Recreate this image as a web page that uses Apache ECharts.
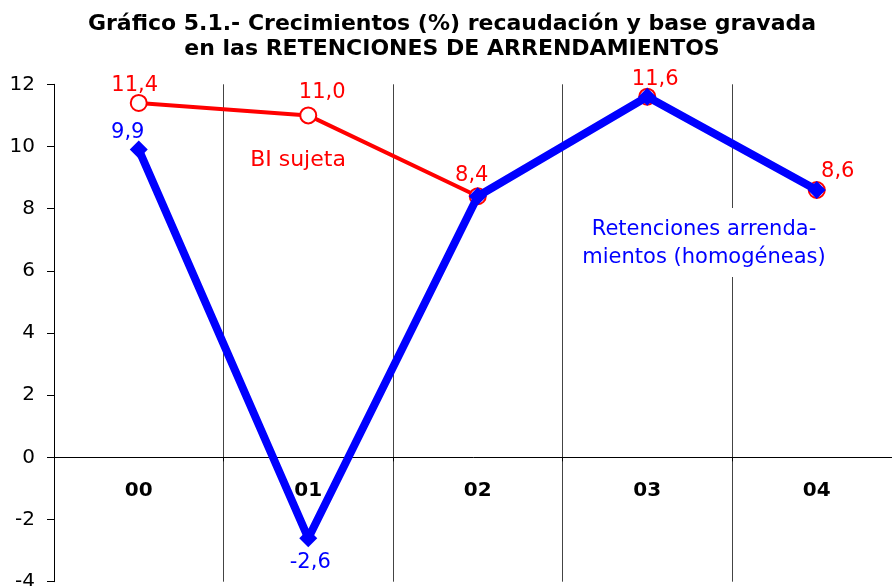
<!DOCTYPE html>
<html>
<head>
<meta charset="utf-8">
<script src="https://cdn.jsdelivr.net/npm/echarts@6/dist/echarts.min.js"></script>
<style>html,body{margin:0;padding:0;background:#fff}#c{width:892px;height:586px}</style>
</head>
<body>
<div id="c"></div>
<script>
const categories = ['00', '01', '02', '03', '04'];
const biSujeta = [11.4, 11.0, 8.4, 11.6, 8.6];
const retenciones = [9.9, -2.6, 8.4, 11.6, 8.6];
const yTicks = { min: -4, max: 12, interval: 2 };
const titleLines = ['Gráfico 5.1.- Crecimientos (%) recaudación y base gravada', 'en las RETENCIONES DE ARRENDAMIENTOS'];
const redLabelOffsets = [[-4, -17], [14, -23], [-6, -21], [8, -17], [21, -18]];
const blueLabelOffsets = [[-11, -17], [2, 24], null, null, null];

const fmt = v => v.toFixed(1).replace('.', ',');
const FONT = 'DejaVu Sans';
const GRID_H = 497.4;
// move the category axis (labels included) up to the zero line of the value scale
const zeroOffset = -GRID_H * (0 - yTicks.min) / (yTicks.max - yTicks.min);

const chart = echarts.init(document.getElementById('c'));
chart.setOption({
  animation: false,
  backgroundColor: '#fff',
  title: {
    text: titleLines.join('\n'),
    left: 447,
    top: 7,
    textAlign: 'center',
    textStyle: { fontFamily: FONT, fontSize: 22, fontWeight: 'bold', color: '#000', lineHeight: 25 }
  },
  grid: { left: 54, top: 84.3, width: 847.5, height: GRID_H, outerBoundsMode: 'none', containLabel: false },
  xAxis: {
    type: 'category',
    data: categories,
    boundaryGap: true,
    offset: zeroOffset,
    axisLine: { onZero: false, lineStyle: { color: '#000', width: 1 } },
    axisTick: { show: true, length: 4, lineStyle: { color: '#000' } },
    axisLabel: { fontFamily: FONT, fontSize: 20, fontWeight: 'bold', color: '#000', margin: 23 },
    splitLine: { show: true, lineStyle: { color: '#444', width: 1 } }
  },
  yAxis: {
    type: 'value',
    min: yTicks.min, max: yTicks.max, interval: yTicks.interval,
    axisLine: { show: true, lineStyle: { color: '#000', width: 1 } },
    axisTick: { show: true, length: 7, lineStyle: { color: '#000' } },
    axisLabel: { fontFamily: FONT, fontSize: 20, color: '#000', margin: 19 },
    splitLine: { show: false }
  },
  series: [
    {
      name: 'BI sujeta',
      type: 'line',
      z: 2,
      data: biSujeta.map((v, i) => ({
        value: v,
        label: { show: true, position: 'inside', offset: redLabelOffsets[i] }
      })),
      lineStyle: { color: '#ff0000', width: 4 },
      symbol: 'circle',
      symbolSize: 16,
      itemStyle: { color: '#fff', borderColor: '#ff0000', borderWidth: 2 },
      label: { fontFamily: FONT, fontSize: 21, color: '#ff0000', formatter: p => fmt(p.value) }
    },
    {
      name: 'Retenciones',
      type: 'line',
      z: 3,
      data: retenciones.map((v, i) => ({
        value: v,
        label: blueLabelOffsets[i] ? { show: true, position: 'inside', offset: blueLabelOffsets[i] } : { show: false }
      })),
      lineStyle: { color: '#0000ff', width: 8 },
      symbol: 'diamond',
      symbolSize: 18,
      itemStyle: { color: '#0000ff' },
      label: { fontFamily: FONT, fontSize: 21, color: '#0000ff', formatter: p => fmt(p.value) }
    }
  ],
  graphic: [
    {
      type: 'text', x: 298, y: 160, z: 10,
      style: { text: 'BI sujeta', fontFamily: FONT, fontSize: 22, fill: '#ff0000', align: 'center', verticalAlign: 'middle' }
    },
    {
      type: 'text', x: 704, y: 208, z: 10,
      style: {
        text: 'Retenciones arrenda-\nmientos (homogéneas)',
        fontFamily: FONT, fontSize: 21, lineHeight: 28, fill: '#0000ff',
        align: 'center', verticalAlign: 'top',
        backgroundColor: '#fff', padding: [8, 4, 5, 4]
      }
    }
  ]
});
</script>
</body>
</html>
